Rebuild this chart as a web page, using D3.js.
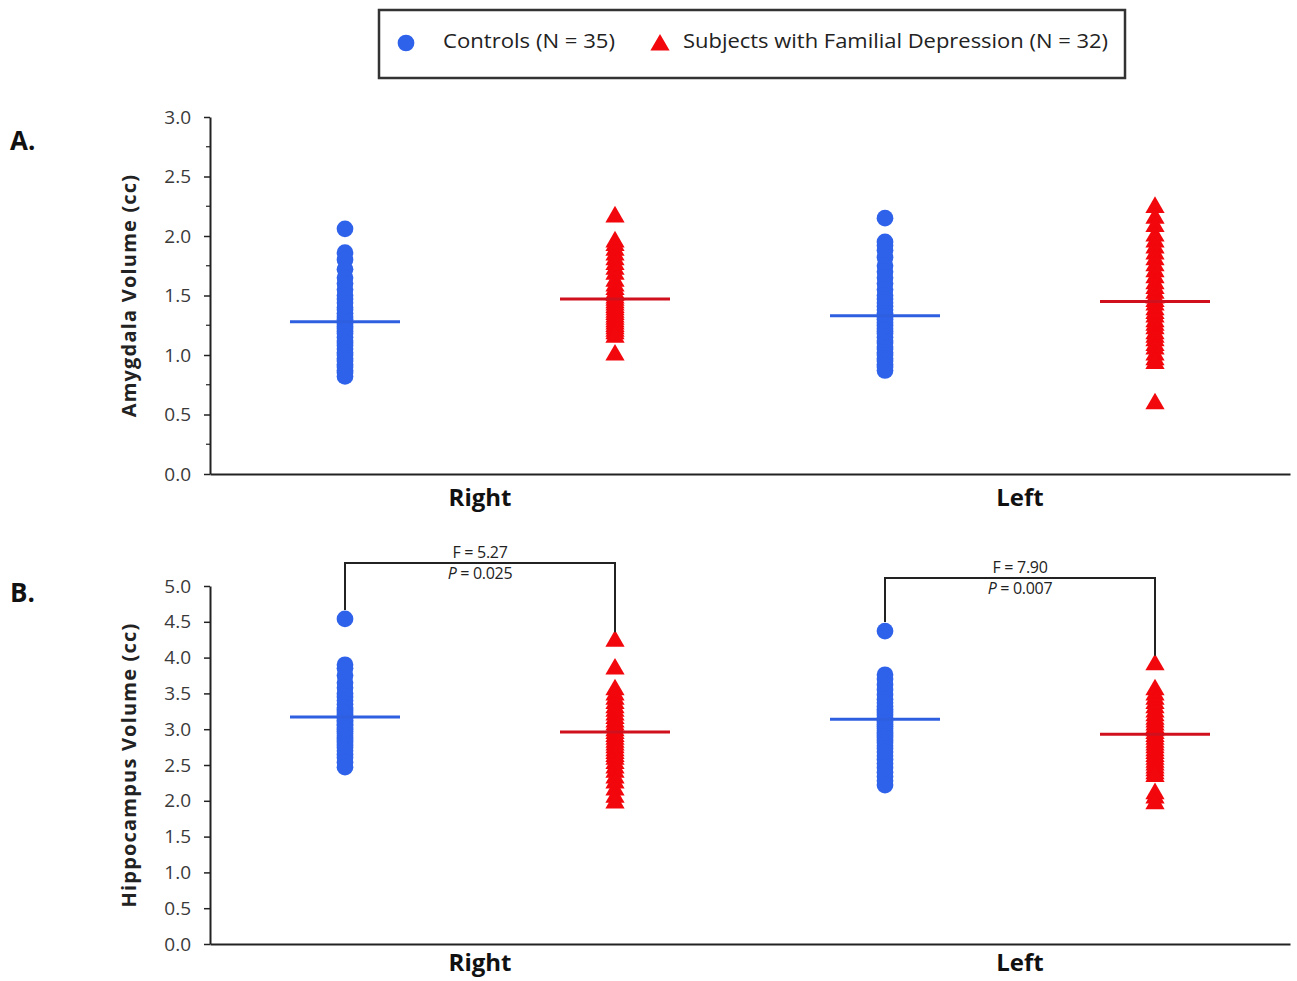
<!DOCTYPE html>
<html>
<head>
<meta charset="utf-8">
<script src="https://cdn.jsdelivr.net/npm/d3@7"></script>
<style>
  body { margin: 0; background: #fff; }
  text { font-family: "Open Sans", "DejaVu Sans", sans-serif; }
</style>
</head>
<body>
<div id="chart"></div>
<script>
// data
const sides = ["Right", "Left"];
const groups = ["Controls", "FD"];

const amyRightControls = [2.06, 1.86, 1.80, 1.72, 1.65, 1.60, 1.55, 1.50, 1.47, 1.44, 1.40, 1.38, 1.35, 1.32, 1.30, 1.28, 1.26, 1.24, 1.22, 1.20, 1.18, 1.15, 1.12, 1.10, 1.08, 1.05, 1.02, 1.00, 0.97, 0.95, 0.92, 0.90, 0.87, 0.85, 0.82];
const amyRightFD = [2.16, 1.95, 1.92, 1.88, 1.84, 1.80, 1.76, 1.72, 1.68, 1.62, 1.58, 1.55, 1.52, 1.50, 1.48, 1.46, 1.44, 1.42, 1.40, 1.38, 1.36, 1.34, 1.32, 1.30, 1.28, 1.26, 1.24, 1.22, 1.20, 1.18, 1.15, 1.00];
const amyLeftControls = [2.15, 1.95, 1.92, 1.88, 1.82, 1.75, 1.70, 1.65, 1.60, 1.55, 1.50, 1.47, 1.44, 1.41, 1.38, 1.35, 1.32, 1.30, 1.27, 1.25, 1.22, 1.20, 1.18, 1.15, 1.12, 1.10, 1.07, 1.05, 1.02, 1.00, 0.97, 0.95, 0.92, 0.90, 0.87];
const amyLeftFD = [2.24, 2.15, 2.08, 2.00, 1.95, 1.90, 1.85, 1.80, 1.75, 1.70, 1.65, 1.60, 1.56, 1.52, 1.48, 1.45, 1.42, 1.38, 1.35, 1.32, 1.28, 1.25, 1.22, 1.18, 1.15, 1.12, 1.08, 1.05, 1.00, 0.96, 0.93, 0.59];
const amyMeans = [1.28, 1.47, 1.33, 1.45];

const hipRightControls = [4.54, 3.90, 3.85, 3.75, 3.65, 3.58, 3.50, 3.45, 3.40, 3.35, 3.30, 3.27, 3.24, 3.21, 3.18, 3.15, 3.12, 3.10, 3.07, 3.05, 3.02, 3.00, 2.97, 2.94, 2.91, 2.88, 2.85, 2.82, 2.78, 2.74, 2.70, 2.65, 2.60, 2.54, 2.47];
const hipRightFD = [4.23, 3.84, 3.55, 3.48, 3.42, 3.36, 3.30, 3.25, 3.20, 3.15, 3.10, 3.06, 3.02, 2.98, 2.94, 2.90, 2.86, 2.82, 2.78, 2.74, 2.70, 2.66, 2.62, 2.58, 2.52, 2.46, 2.40, 2.32, 2.25, 2.15, 2.05, 1.97];
const hipLeftControls = [4.37, 3.76, 3.70, 3.62, 3.55, 3.48, 3.42, 3.37, 3.32, 3.28, 3.24, 3.20, 3.16, 3.13, 3.10, 3.07, 3.04, 3.01, 2.98, 2.95, 2.92, 2.89, 2.85, 2.81, 2.77, 2.73, 2.68, 2.63, 2.58, 2.52, 2.46, 2.40, 2.34, 2.28, 2.22];
const hipLeftFD = [3.90, 3.55, 3.48, 3.42, 3.36, 3.30, 3.24, 3.19, 3.14, 3.10, 3.06, 3.02, 2.98, 2.94, 2.90, 2.86, 2.82, 2.78, 2.74, 2.70, 2.66, 2.62, 2.58, 2.54, 2.50, 2.46, 2.42, 2.38, 2.34, 2.10, 2.04, 1.96];
const hipMeans = [3.17, 2.96, 3.14, 2.93];

const hipStats = [
  { side: "Right", level: 5.32, f: "F = 5.27", p: "0.025" },
  { side: "Left", level: 5.11, f: "F = 7.90", p: "0.007" }
];

const blue = "#2f62ea";
const red = "#f2070d";
const blueLine = "#2e5fe0";
const redLine = "#d0101c";

const width = 1297, height = 981;
const svg = d3.select("#chart").append("svg")
  .attr("width", width).attr("height", height);

const x = d3.scaleBand().domain(sides).range([210, 1290]).padding(0);
const xg = d3.scalePoint().domain(groups).range([0, x.bandwidth()]).padding(0.5);

function panel(cfg) {
  const y = d3.scaleLinear().domain([0, cfg.max]).range(cfg.yRange);
  const g = svg.append("g");

  // y axis
  const yAxis = d3.axisLeft(y).tickValues(d3.range(0, cfg.max + 0.01, 0.5))
    .tickFormat(d3.format(".1f")).tickSize(6).tickPadding(13).tickSizeOuter(0);
  const ya = g.append("g").attr("transform", "translate(210,0)").call(yAxis);
  ya.select(".domain").attr("stroke", "#222").attr("stroke-width", 2);
  ya.selectAll(".tick line").attr("stroke", "#222").attr("stroke-width", 1.5);
  ya.selectAll(".tick text").attr("font-size", 19).attr("fill", "#3a3a3a");
  if (cfg.minor) {
    g.append("g").selectAll("line")
      .data(d3.range(0.25, cfg.max, 0.5))
      .join("line")
      .attr("x1", 206).attr("x2", 210)
      .attr("y1", d => y(d)).attr("y2", d => y(d))
      .attr("stroke", "#222").attr("stroke-width", 1.2);
  }

  // x axis
  const xAxis = d3.axisBottom(x).tickSize(0).tickSizeOuter(0);
  const xa = g.append("g").attr("transform", `translate(0,${y(0)})`).call(xAxis);
  xa.select(".domain").attr("stroke", "#222").attr("stroke-width", 2);
  xa.selectAll(".tick text").attr("font-size", 24).attr("font-weight", "bold")
    .attr("fill", "#111").attr("y", cfg.labelOff).attr("dy", "0.35em");

  // y title
  g.append("text")
    .attr("transform", `translate(136,${(cfg.yRange[0] + cfg.yRange[1]) / 2}) rotate(-90)`)
    .attr("text-anchor", "middle")
    .attr("font-size", 20).attr("font-weight", "bold").attr("fill", "#222")
    .attr("letter-spacing", 1.2)
    .text(cfg.title);

  // panel letter
  g.append("text").attr("x", 10).attr("y", cfg.letterY)
    .attr("font-size", 26).attr("font-weight", "bold").attr("fill", "#111")
    .text(cfg.letter);

  // points
  cfg.series.forEach((vals, i) => {
    const side = sides[Math.floor(i / 2)];
    const grp = groups[i % 2];
    const cx = x(side) + xg(grp);
    const col = grp === "Controls" ? blue : red;
    const sym = grp === "Controls" ? d3.symbolCircle : d3.symbolTriangle;
    const size = grp === "Controls" ? 220 : 160;
    g.append("g").selectAll("path")
      .data(vals)
      .join("path")
      .attr("transform", d => `translate(${cx},${y(d)})`)
      .attr("d", d3.symbol().type(sym).size(size))
      .attr("fill", col);
  });

  // mean lines
  g.append("g").selectAll("line")
    .data(cfg.means)
    .join("line")
    .attr("x1", (d, i) => x(sides[Math.floor(i / 2)]) + xg(groups[i % 2]) - 55)
    .attr("x2", (d, i) => x(sides[Math.floor(i / 2)]) + xg(groups[i % 2]) + 55)
    .attr("y1", d => y(d)).attr("y2", d => y(d))
    .attr("stroke", (d, i) => i % 2 === 0 ? blueLine : redLine)
    .attr("stroke-width", 3);

  return { g, y };
}

panel({
  max: 3, yRange: [474, 117], minor: true, labelOff: 24,
  title: "Amygdala Volume (cc)", letter: "A.", letterY: 150,
  series: [amyRightControls, amyRightFD, amyLeftControls, amyLeftFD],
  means: amyMeans
});

const pB = panel({
  max: 5, yRange: [944, 586], minor: false, labelOff: 19,
  title: "Hippocampus Volume (cc)", letter: "B.", letterY: 602,
  series: [hipRightControls, hipRightFD, hipLeftControls, hipLeftFD],
  means: hipMeans
});

// significance brackets
const tops = {
  Right: [d3.max(hipRightControls), d3.max(hipRightFD)],
  Left: [d3.max(hipLeftControls), d3.max(hipLeftFD)]
};
hipStats.forEach(s => {
  const yB = pB.y;
  const x1 = x(s.side) + xg("Controls");
  const x2 = x(s.side) + xg("FD");
  const ly = yB(s.level);
  pB.g.append("path")
    .attr("d", `M${x1},${yB(tops[s.side][0]) - 9}V${ly}H${x2}V${yB(tops[s.side][1]) - 9}`)
    .attr("fill", "none").attr("stroke", "#222").attr("stroke-width", 2);
  const mx = (x1 + x2) / 2;
  pB.g.append("text").attr("x", mx).attr("y", ly - 5)
    .attr("text-anchor", "middle").attr("font-size", 16).attr("fill", "#222")
    .attr("font-family", "Liberation Sans Narrow, Liberation Sans, sans-serif")
    .attr("letter-spacing", -0.3)
    .text(s.f);
  const t = pB.g.append("text").attr("x", mx).attr("y", ly + 16)
    .attr("text-anchor", "middle").attr("font-size", 16).attr("fill", "#222")
    .attr("font-family", "Liberation Sans Narrow, Liberation Sans, sans-serif")
    .attr("letter-spacing", -0.3);
  t.append("tspan").attr("font-style", "italic").text("P");
  t.append("tspan").text(" = " + s.p);
});

// legend
const leg = svg.append("g");
leg.append("rect").attr("x", 379).attr("y", 10).attr("width", 746).attr("height", 68)
  .attr("fill", "#fff").attr("stroke", "#333").attr("stroke-width", 2.5);
leg.append("path").attr("transform", "translate(406,43)")
  .attr("d", d3.symbol().type(d3.symbolCircle).size(220)).attr("fill", blue);
leg.append("text").attr("x", 443).attr("y", 48).attr("font-size", 20).attr("fill", "#222")
  .attr("font-family", "Liberation Sans, sans-serif")
  .attr("textLength", 172).attr("lengthAdjust", "spacingAndGlyphs")
  .text("Controls (N = 35)");
leg.append("path").attr("transform", "translate(660,45)")
  .attr("d", d3.symbol().type(d3.symbolTriangle).size(160)).attr("fill", red);
leg.append("text").attr("x", 683).attr("y", 48).attr("font-size", 20).attr("fill", "#222")
  .attr("font-family", "Liberation Sans, sans-serif")
  .attr("textLength", 425).attr("lengthAdjust", "spacingAndGlyphs")
  .text("Subjects with Familial Depression (N = 32)");
</script>
</body>
</html>
